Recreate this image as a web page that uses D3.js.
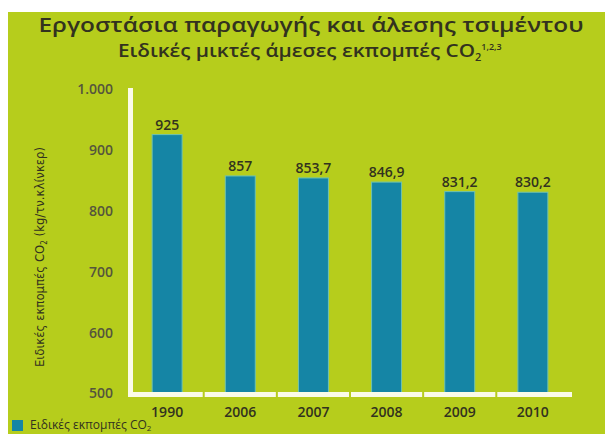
<!DOCTYPE html>
<html><head><meta charset="utf-8">
<script src="https://cdn.jsdelivr.net/npm/d3@7"></script>
<style>html,body{margin:0;padding:0;background:#fff;}svg{display:block;}</style>
</head><body>
<svg id="c" width="605" height="434"></svg>
<script>
const categories = ["1990","2006","2007","2008","2009","2010"];
const values = [925, 857, 853.7, 846.9, 831.2, 830.2];
const valueLabels = ["925","857","853,7","846,9","831,2","830,2"];
const yTicks = [500, 600, 700, 800, 900, 1000];
const yTickLabels = ["500","600","700","800","900","1.000"];
const titleLines = ["Εργοστάσια παραγωγής και άλεσης τσιμέντου", "Ειδικές μικτές άμεσες εκπομπές CO"];
const yTitle = "Ειδικές εκπομπές CO";
const legendLabel = "Ειδικές εκπομπές CO";

const svg = d3.select("#c");
const W = 605, H = 434;
const bg = "#b6cd1c", barColor = "#1585a5", txt = "#32321f";
const font = "'Open Sans', 'DejaVu Sans', sans-serif";

svg.append("rect").attr("x", 8).attr("y", 12).attr("width", W - 8).attr("height", H - 12).attr("fill", bg);

const x = d3.scaleBand().domain(categories).range([128, 572]).paddingInner(0.59).paddingOuter(0.33);
const y = d3.scaleLinear().domain([500, 1000]).range([393, 89]);

// titles
svg.append("text").attr("x", 311).attr("y", 32).attr("text-anchor", "middle")
  .attr("font-family", font).attr("font-size", 19).attr("font-weight", 600).attr("fill", txt)
  .attr("textLength", 545).attr("lengthAdjust", "spacingAndGlyphs").text(titleLines[0]);
const t2 = svg.append("text").attr("x", 118).attr("y", 57)
  .attr("font-family", font).attr("font-size", 18).attr("font-weight", 600).attr("fill", txt);
t2.append("tspan").attr("textLength", 357).attr("lengthAdjust", "spacingAndGlyphs").text(titleLines[1]);
t2.append("tspan").attr("font-size", 11).attr("dy", 4).text("2");
t2.append("tspan").attr("font-size", 9).attr("dy", -11).text("1,2,3");

// y title
const yt = svg.append("text").attr("transform", "translate(44,257) rotate(-90)").attr("text-anchor", "middle")
  .attr("font-family", "'Liberation Sans Narrow', 'DejaVu Sans Condensed', sans-serif").attr("font-size", 13).attr("fill", txt);
yt.append("tspan").text(yTitle);
yt.append("tspan").attr("font-size", 8).attr("dy", 3).text("2");
yt.append("tspan").attr("dy", -3).text(" (kg/τν.κλίνκερ)");

// y axis
const yAxis = d3.axisLeft(y).tickValues(yTicks).tickFormat((d, i) => yTickLabels[i]).tickSize(0).tickPadding(0);
const gy = svg.append("g").attr("transform", "translate(113,0)").call(yAxis);
gy.select(".domain").remove();
gy.selectAll("text").attr("font-family", font).attr("font-size", 14).attr("font-weight", 600).attr("fill", "#55553c").attr("dy", "0.35em");

// bars
svg.append("g").selectAll("rect").data(values).join("rect")
  .attr("x", (d, i) => x(categories[i])).attr("width", x.bandwidth())
  .attr("y", d => y(d)).attr("height", d => y(500) - y(d))
  .attr("fill", barColor).attr("stroke", "#6fc3b0").attr("stroke-width", 1);

// value labels
svg.append("g").selectAll("text").data(values).join("text")
  .attr("x", (d, i) => x(categories[i]) + x.bandwidth() / 2).attr("y", d => y(d) - 5)
  .attr("text-anchor", "middle").attr("font-family", font).attr("font-size", 14).attr("font-weight", 600)
  .attr("fill", txt).text((d, i) => valueLabels[i]);

// axis lines (white)
svg.append("rect").attr("x", 128).attr("y", 88).attr("width", 5).attr("height", 309).attr("fill", "#fbfbe8");
const step = x.step();
svg.append("g").selectAll("rect").data(categories).join("rect")
  .attr("x", (d, i) => i === 0 ? 128 : x(d) - (step - x.bandwidth()) / 2 + 1)
  .attr("width", (d, i) => i === 0 ? x(d) + x.bandwidth() + (step - x.bandwidth()) / 2 - 1 - 128 : (i === categories.length - 1 ? 572 - (x(d) - (step - x.bandwidth()) / 2 + 1) : step - 2))
  .attr("y", 392).attr("height", 5).attr("fill", "#fbfbe8");

// x axis labels
const xAxis = d3.axisBottom(x).tickSize(0).tickPadding(0);
const gx = svg.append("g").attr("transform", "translate(0,404)").call(xAxis);
gx.select(".domain").remove();
gx.selectAll("text").attr("font-family", font).attr("font-size", 14).attr("font-weight", 600).attr("fill", txt).attr("dy", "0.9em");

// legend
svg.append("rect").attr("x", 12).attr("y", 420).attr("width", 11).attr("height", 11).attr("fill", barColor);
const lg = svg.append("text").attr("x", 30).attr("y", 429).attr("font-family", font).attr("font-size", 12).attr("fill", txt);
lg.append("tspan").text(legendLabel);
lg.append("tspan").attr("font-size", 8).attr("dy", 2).text("2");
</script>
</body></html>
